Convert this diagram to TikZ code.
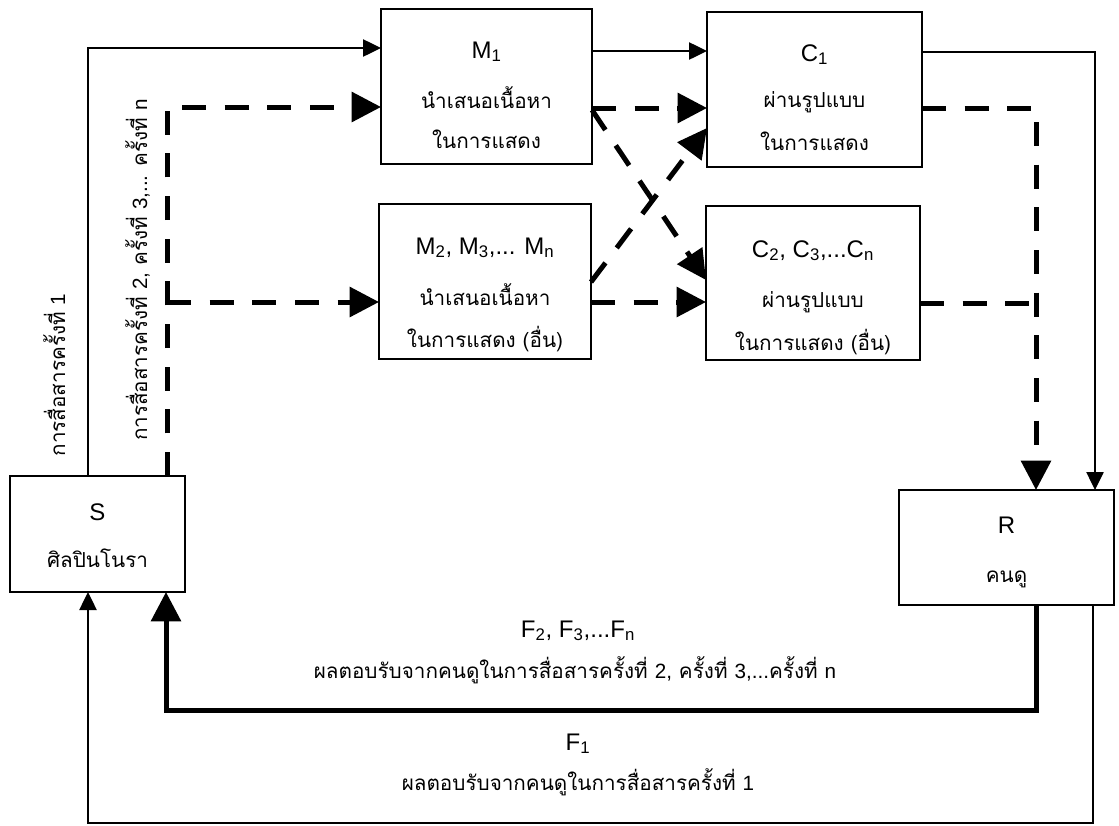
\documentclass[tikz,border=0pt]{standalone}
\usepackage{fontspec}
\setmainfont{Liberation Sans}
\newfontfamily\thai[Script=Thai]{Loma}
\usetikzlibrary{arrows.meta,calc}
\newcommand\fsbig{\fontsize{18pt}{20pt}\selectfont}
\newcommand\fsmid{\fontsize{15.5pt}{18pt}\selectfont}
\newcommand\fsth{\fontsize{15.5pt}{19pt}\selectfont\thai}
\begin{document}
\begin{tikzpicture}[x=0.75pt,y=-0.75pt,
  box/.style={draw,line width=1.1pt,inner sep=0pt,outer sep=0pt},
  lat/.style={font=\fsbig,anchor=base,inner sep=0pt},
  th/.style={font=\fsth,anchor=base,inner sep=0pt},
  thinln/.style={line width=1pt},
  thinarr/.style={thinln,-{Triangle[length=13.5pt,width=13pt]}},
  dashln/.style={line width=3.75pt,dash pattern=on 18pt off 14pt},
  dasharr/.style={dashln,-{Triangle[length=22pt,width=22pt]}},
  fbarr/.style={line width=3.75pt,-{Triangle[length=22pt,width=22pt]}}]
\useasboundingbox (0,0) rectangle (1119,825);

% boxes
\node[box,minimum width=131.25pt,minimum height=87pt] (s) at (97.5,534) {};
\node[box,minimum width=158.25pt,minimum height=116.25pt] (m1) at (486.5,86.5) {};
\node[box,minimum width=159pt,minimum height=116.25pt] (m2) at (485,281.5) {};
\node[box,minimum width=161.25pt,minimum height=116.25pt] (c1) at (814.5,89.5) {};
\node[box,minimum width=160.5pt,minimum height=115.5pt] (c2) at (813,283) {};
\node[box,minimum width=161.25pt,minimum height=86.25pt] (r) at (1006.5,547.5) {};

% box texts
\node[lat] (sa) at ($(s.north)+(0,44)$) {S};
\node[th] (sb) at ($(s.north)+(0,91)$) {ศิลปินโนรา};
\node[lat] (ra) at ($(r.north)+(0,43)$) {R};
\node[th] (rb) at ($(r.north)+(0,92)$) {คนดู};

\node[lat] (m1a) at ($(m1.north)+(0,49)$) {M\textsubscript{1}};
\node[th] (m1b) at ($(m1.north)+(0,99)$) {นำเสนอเนื้อหา};
\node[th] (m1c) at ($(m1.north)+(0,139)$) {ในการแสดง};

\node[lat] (m2a) at ($(m2.north)+(0,50)$) {M\textsubscript{2}, M\textsubscript{3},... M\textsubscript{n}};
\node[th] (m2b) at ($(m2.north)+(0,101)$) {นำเสนอเนื้อหา};
\node[th] (m2c) at ($(m2.north)+(0,143)$) {ในการแสดง (อื่น)};

\node[lat] (c1a) at ($(c1.north)+(0,49)$) {C\textsubscript{1}};
\node[th] (c1b) at ($(c1.north)+(0,95)$) {ผ่านรูปแบบ};
\node[th] (c1c) at ($(c1.north)+(0,138)$) {ในการแสดง};

\node[lat] (c2a) at ($(c2.north)+(0,51)$) {C\textsubscript{2}, C\textsubscript{3},...C\textsubscript{n}};
\node[th] (c2b) at ($(c2.north)+(0,101)$) {ผ่านรูปแบบ};
\node[th] (c2c) at ($(c2.north)+(0,144)$) {ในการแสดง (อื่น)};

% side labels
\node[th,rotate=90] (t1) at (65,375) {การสื่อสารครั้งที่ {\fsmid\rmfamily 1}};
\node[th,rotate=90] (t2) at (147,270) {การสื่อสารครั้งที่ {\fsmid\rmfamily 2,} ครั้งที่ {\fsmid\rmfamily 3,...} ครั้งที่ {\fsmid\rmfamily n}};

% bottom labels
\node[lat] (f2) at (578,637) {F\textsubscript{2}, F\textsubscript{3},...F\textsubscript{n}};
\node[th] (f2t) at (575,678) {ผลตอบรับจากคนดูในการสื่อสารครั้งที่ {\fsmid\rmfamily 2,} ครั้งที่ {\fsmid\rmfamily 3,...}ครั้งที่ {\fsmid\rmfamily n}};
\node[lat] (f1) at (578,750) {F\textsubscript{1}};
\node[th] (f1t) at (578,790) {ผลตอบรับจากคนดูในการสื่อสารครั้งที่ {\fsmid\rmfamily 1}};

% helper coordinates on node borders
\coordinate (sthin) at ($(s.north)+(-9.5,0)$);
\coordinate (sdash) at ($(s.north)+(69.5,0)$);
\coordinate (sthinb) at ($(s.south)+(-9.5,0)$);
\coordinate (sthick) at ($(s.south)+(68.5,0)$);
\coordinate (m1in) at ($(m1.west)+(0,-38.5)$);
\coordinate (m1din) at ($(m1.west)+(0,20.5)$);
\coordinate (m2din) at ($(m2.west)+(0,20.5)$);
\coordinate (m1out) at ($(m1.east)+(0,-35.5)$);
\coordinate (m1dout) at ($(m1.east)+(0,21.5)$);
\coordinate (m1xout) at ($(m1.east)+(0,23.5)$);
\coordinate (m2xout) at ($(m2.east)+(0,0.5)$);
\coordinate (m2dout) at ($(m2.east)+(0,20.5)$);
\coordinate (c1xin) at ($(c1.west)+(0,38.5)$);
\coordinate (c2xin) at ($(c2.west)+(0,-3)$);
\coordinate (c1out) at ($(c1.east)+(0,-37.5)$);
\coordinate (c1dout) at ($(c1.east)+(0,18.5)$);
\coordinate (c2dout) at ($(c2.east)+(0,20)$);
\coordinate (rthin) at ($(r.north)+(88.5,0)$);
\coordinate (rdash) at ($(r.north)+(29.5,0)$);
\coordinate (rthinb) at ($(r.south)+(86.5,0)$);
\coordinate (rthick) at ($(r.south)+(29.5,0)$);

% thin solid connectors
\draw[thinarr] (sthin) |- (m1in);
\draw[thinarr] (m1out) -- (m1out -| c1.west);
\draw[thinarr] (c1out) -| (rthin);
\draw[thinarr] (rthinb) -- ++(0,218) -| (sthinb);

% thick feedback
\draw[fbarr] (rthick) -- ++(0,105) -| (sthick);

% dashed connectors
\draw[dasharr] (sdash) |- (m1din);
\draw[dasharr] (sdash |- m2din) -- (m2din);
\draw[dasharr] (m1dout) -- (m1dout -| c1.west);
\draw[dasharr] (m2dout) -- (m2dout -| c2.west);
\draw[dasharr] (m1xout) -- (c2xin);
\draw[dasharr] (m2xout) -- (c1xin);
\draw[dasharr] (c1dout) -| (rdash);
\draw[dashln] (c2dout) -- (c2dout -| rdash);
\end{tikzpicture}
\end{document}
